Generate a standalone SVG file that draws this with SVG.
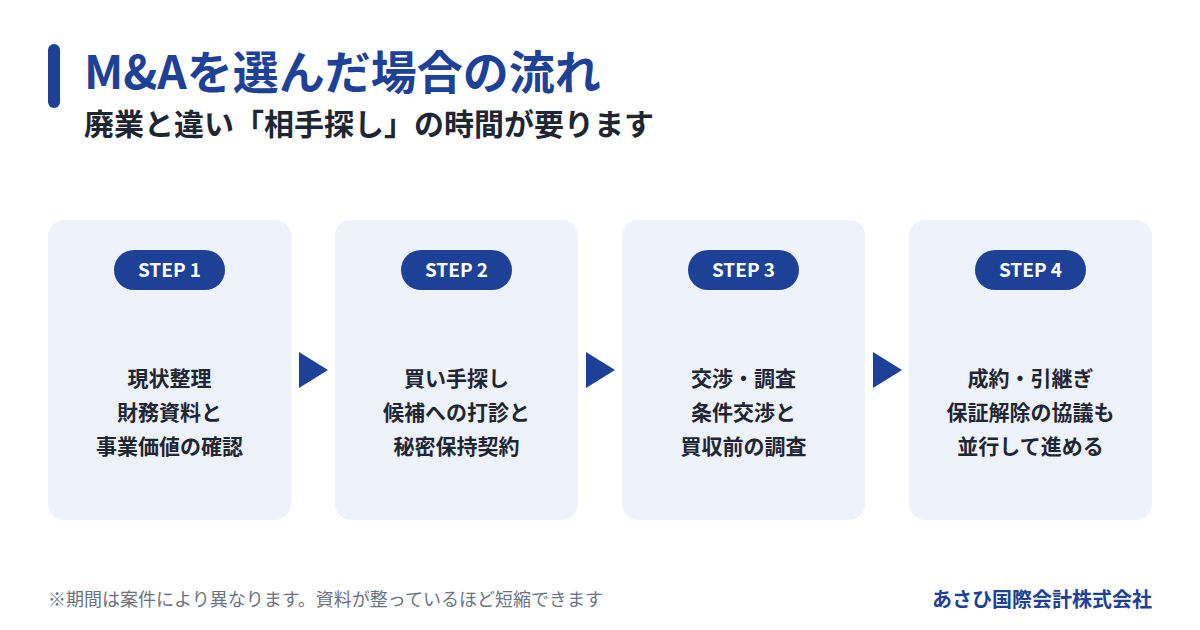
<svg xmlns="http://www.w3.org/2000/svg" width="1200" height="630" viewBox="0 0 1200 630">
<style>
text{font-family:"Noto Sans CJK JP","Noto Sans",sans-serif}
.card{fill:#eef2fa}
.pill{fill:#1e4198}
.pt{fill:#fff;font-size:19px;font-weight:700;text-anchor:middle}
.bt{fill:#1f2633;font-size:21px;font-weight:700;text-anchor:middle}
.arr{fill:#1e4198}
</style>
<rect width="1200" height="630" fill="#fff"/>
<rect x="48" y="44" width="12" height="64" rx="6" fill="#1e4198"/>
<text x="84" y="89" font-size="46" font-weight="700" fill="#1e4198">M&amp;Aを選んだ場合の流れ</text>
<text x="84" y="135" font-size="30" font-weight="700" fill="#1f2633">廃業と違い「相手探し」の時間が要ります</text>
<g id="step1"><rect class="card" x="48" y="220" width="243" height="300" rx="16"/><rect class="pill" x="114" y="250" width="111" height="40" rx="20"/><text class="pt" x="169.5" y="277">STEP 1</text><text class="bt" x="169.5" y="386">現状整理</text><text class="bt" x="169.5" y="420">財務資料と</text><text class="bt" x="169.5" y="454">事業価値の確認</text></g>
<g id="step2"><rect class="card" x="335" y="220" width="243" height="300" rx="16"/><rect class="pill" x="401" y="250" width="111" height="40" rx="20"/><text class="pt" x="456.5" y="277">STEP 2</text><text class="bt" x="456.5" y="386">買い手探し</text><text class="bt" x="456.5" y="420">候補への打診と</text><text class="bt" x="456.5" y="454">秘密保持契約</text></g>
<g id="step3"><rect class="card" x="622" y="220" width="243" height="300" rx="16"/><rect class="pill" x="688" y="250" width="111" height="40" rx="20"/><text class="pt" x="743.5" y="277">STEP 3</text><text class="bt" x="743.5" y="386">交渉・調査</text><text class="bt" x="743.5" y="420">条件交渉と</text><text class="bt" x="743.5" y="454">買収前の調査</text></g>
<g id="step4"><rect class="card" x="909" y="220" width="243" height="300" rx="16"/><rect class="pill" x="975" y="250" width="111" height="40" rx="20"/><text class="pt" x="1030.5" y="277">STEP 4</text><text class="bt" x="1030.5" y="386">成約・引継ぎ</text><text class="bt" x="1030.5" y="420">保証解除の協議も</text><text class="bt" x="1030.5" y="454">並行して進める</text></g>
<g id="connectors"><polygon class="arr" points="299,352 328,370 299,388"/><polygon class="arr" points="586,352 615,370 586,388"/><polygon class="arr" points="873,352 902,370 873,388"/></g>
<text x="48" y="606" font-size="18" fill="#6b7280">※期間は案件により異なります。資料が整っているほど短縮できます</text>
<text x="1152" y="607" font-size="20" font-weight="700" fill="#1e4198" text-anchor="end">あさひ国際会計株式会社</text>
</svg>
